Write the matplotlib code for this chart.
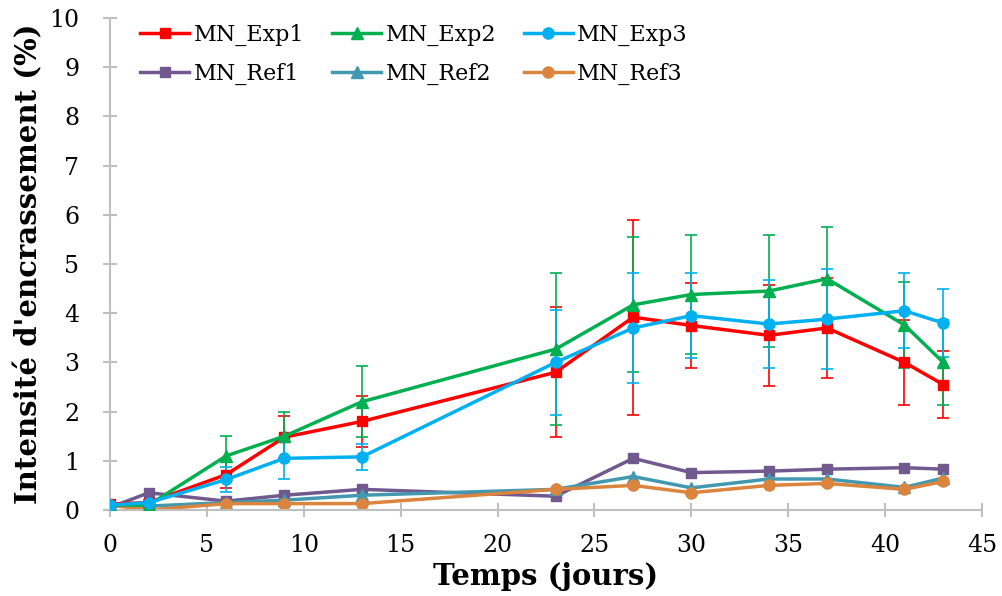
import numpy as np
import matplotlib.pyplot as plt

plt.rcParams['font.family'] = ['DejaVu Serif']

# temps de mesure (jours)
jours = [0, 2, 6, 9, 13, 23, 27, 30, 34, 37, 41, 43]

exp1 = [0.12, 0.15, 0.72, 1.48, 1.80, 2.80, 3.92, 3.75, 3.55, 3.70, 3.00, 2.55]
exp2 = [0.10, 0.10, 1.10, 1.50, 2.20, 3.27, 4.17, 4.38, 4.45, 4.70, 3.76, 3.00]
exp3 = [0.10, 0.15, 0.62, 1.05, 1.08, 3.00, 3.70, 3.95, 3.78, 3.88, 4.05, 3.80]
ref1 = [0.05, 0.35, 0.18, 0.30, 0.42, 0.28, 1.05, 0.76, 0.79, 0.83, 0.86, 0.83]
ref2 = [0.08, 0.08, 0.15, 0.20, 0.30, 0.42, 0.68, 0.45, 0.63, 0.63, 0.46, 0.65]
ref3 = [0.10, 0.00, 0.13, 0.13, 0.13, 0.42, 0.50, 0.35, 0.50, 0.54, 0.42, 0.58]

# ecarts-types (seulement pour les essais exp)
err1 = [0.05, 0.05, 0.28, 0.43, 0.52, 1.32, 1.98, 0.87, 1.02, 1.02, 0.86, 0.69]
err2 = [0.05, 0.05, 0.40, 0.50, 0.72, 1.55, 1.37, 1.20, 1.14, 1.05, 0.87, 0.87]
err3 = [0.05, 0.05, 0.26, 0.42, 0.27, 1.06, 1.12, 0.86, 0.90, 1.02, 0.76, 0.70]

fig = plt.figure(figsize=(10.02, 5.96), dpi=100)
ax = fig.add_axes([110/1002, 86/596, 872/1002, 492/596])

lw = 2.5
kw = dict(lw=lw, elinewidth=1.2, capsize=4, capthick=1.2, zorder=3)
e1 = ax.errorbar(jours, exp1, yerr=err1, color='#FF0000', marker='s', ms=7.5, **kw)
e2 = ax.errorbar(jours, exp2, yerr=err2, color='#00B050', marker='^', ms=8, **kw)
e3 = ax.errorbar(jours, exp3, yerr=err3, color='#00B0F0', marker='o', ms=8, **kw)
r1, = ax.plot(jours, ref1, color='#71588F', marker='s', ms=7.5, lw=lw)
r2, = ax.plot(jours, ref2, color='#4198AF', marker='^', ms=8, lw=lw)
r3, = ax.plot(jours, ref3, color='#DB843D', marker='o', ms=8, lw=lw)

ax.set_xlim(0, 45)
ax.set_ylim(0, 10)
ax.set_xticks(np.arange(0, 46, 5))
ax.set_yticks(np.arange(0, 11, 1))
for s in ['top', 'right']:
    ax.spines[s].set_visible(False)
for s in ['left', 'bottom']:
    ax.spines[s].set_color('#BFBFBF')
    ax.spines[s].set_linewidth(1.5)
ax.tick_params(direction='inout', length=10, width=1.5, color='#BFBFBF',
               labelsize=17)
ax.tick_params(axis='x', pad=12)
ax.tick_params(axis='y', pad=17)
ax.set_xlabel('Temps (jours)', fontsize=21, fontweight='bold', labelpad=4)
ax.set_ylabel("Intensité d'encrassement (%)", fontsize=21, fontweight='bold', labelpad=4)

# legende : ligne 1 = Exp, ligne 2 = Ref (remplissage par colonnes)
handles = [e1[0], r1, e2[0], r2, e3[0], r3]
labels = ['MN_Exp1', 'MN_Ref1', 'MN_Exp2', 'MN_Ref2', 'MN_Exp3', 'MN_Ref3']
ax.legend(handles, labels, ncol=3, frameon=False,
          loc='upper left', bbox_to_anchor=(0.012, 1.028), fontsize=16,
          handlelength=2.2, columnspacing=1.25, handletextpad=0.2, labelspacing=0.75)

fig.savefig('out.png', dpi=100)
